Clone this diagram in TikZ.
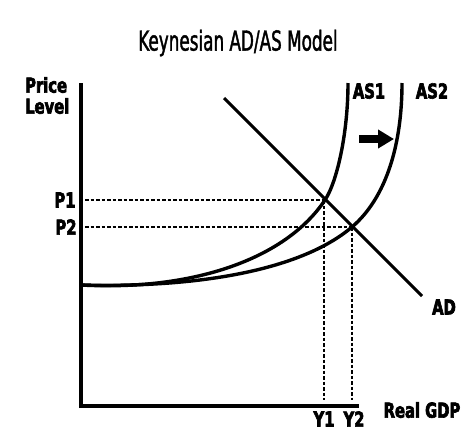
\documentclass[tikz,border=0pt]{standalone}
\usepackage{fontspec}
\usetikzlibrary{arrows.meta}
\newfontfamily\labfont{DejaVu Sans Condensed}[FakeStretch=0.8,BoldFeatures={FakeBold=3}]
\newfontfamily\titlefont{DejaVu Sans Condensed}[FakeStretch=0.68,FakeBold=1.4]
\begin{document}
\begin{tikzpicture}[x=1pt,y=-1pt,
  lab/.style={font=\labfont\bfseries\fontsize{20.5}{22}\selectfont, inner sep=0pt},
  axis/.style={line width=4pt},
  curve/.style={line width=3.4pt},
  guide/.style={line width=2pt, dash pattern=on 3.5pt off 2pt}]
\useasboundingbox (0,0) rectangle (474,437);
\node[font=\titlefont\fontsize{27.5}{29}\selectfont, inner sep=0pt] (title) at (238,43) {Keynesian AD/AS Model};
% axes
\coordinate (ytop) at (81,83);
\coordinate (xend) at (359,406);
\draw[axis] (81,408) -- (ytop);
\draw[axis] (79,406) -- (xend);
% key points
\coordinate (E1) at (325,200);
\coordinate (E2) at (352,227);
\coordinate (P1a) at (85,200);
\coordinate (P2a) at (85,227);
\coordinate (Y1a) at (324,400);
\coordinate (Y2a) at (352,400);
% guides
\draw[guide] (P1a) -- (E1);
\draw[guide] (P2a) -- (E2);
\draw[guide] (324,200) -- (Y1a);
\draw[guide] (E2) -- (Y2a);
% AS1
\draw[curve] (81,285) .. controls (191,291) and (285,260) .. (E1)
  .. controls (337,182) and (348,133) .. (348,83);
% AS2
\draw[curve] (81,285) .. controls (201,288) and (302,269.5) .. (E2)
  .. controls (387,197) and (402,143) .. (402,83);
% AD
\coordinate (ADa) at (224,98);
\coordinate (ADb) at (422,296);
\draw[line width=3pt] (ADa) -- (ADb);
% shift arrow
\coordinate (arrA) at (359,139);
\coordinate (arrB) at (394,139);
\draw[line width=8pt, -{Triangle[length=16pt,width=18pt]}] (arrA) -- (arrB);
% labels
\node[lab, anchor=west] (price) at (25,85) {Price};
\node[lab, anchor=west] (level) at (25,106) {Level};
\node[lab] (as1) at (369,91) {AS1};
\node[lab] (as2) at (432,91) {AS2};
\node[lab] (p1) at (65,200) {P1};
\node[lab] (p2) at (66,227) {P2};
\node[lab] (y1) at (324,419) {Y1};
\node[lab] (y2) at (354,419) {Y2};
\node[lab] (gdp) at (422,410) {Real GDP};
\node[lab] (ad) at (444,307) {AD};
\end{tikzpicture}
\end{document}
